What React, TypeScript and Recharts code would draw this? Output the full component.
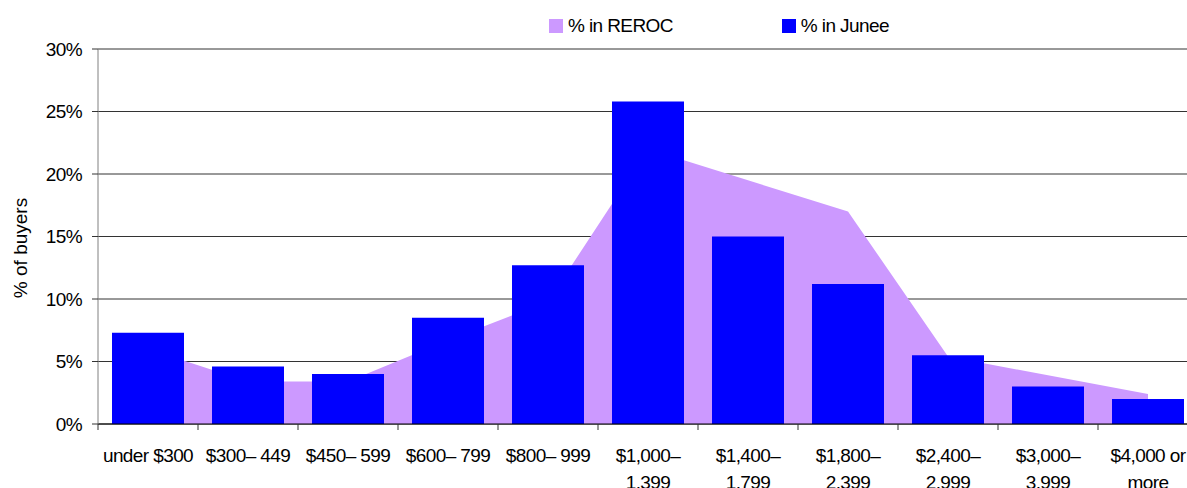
import React from "react"
import { ComposedChart, Area, Bar, XAxis, YAxis, CartesianGrid, Legend } from "recharts"

// price bands (line breaks where the labels wrap)
const categories = [
  "under $300",
  "$300– 449",
  "$450– 599",
  "$600– 799",
  "$800– 999",
  "$1,000–\n1,399",
  "$1,400–\n1,799",
  "$1,800–\n2,399",
  "$2,400–\n2,999",
  "$3,000–\n3,999",
  "$4,000 or\nmore",
]
const reroc = [6.0, 3.4, 3.4, 6.7, 9.8, 22.0, 19.5, 17.0, 5.4, 3.9, 2.4]
const junee = [7.3, 4.6, 4.0, 8.5, 12.7, 25.8, 15.0, 11.2, 5.5, 3.0, 2.0]
const yTicks = [0, 5, 10, 15, 20, 25, 30]

const seriesInfo = [
  { key: "reroc", name: "% in REROC", color: "#CC99FF" },
  { key: "junee", name: "% in Junee", color: "#0000FF" },
]

const FONT = "'Liberation Sans', Arial, sans-serif"
const FS = 19
const LS = -0.6

const data = categories.map((c, i) => ({ cat: c, reroc: reroc[i], junee: junee[i] }))

function CategoryTick(props: any) {
  const { x, y, payload, index, visibleTicksCount } = props
  const half = payload && payload.offset ? payload.offset : 50
  const lines = String(payload.value).split("\n")
  return (
    <g>
      <line x1={x - half} x2={x - half} y1={y} y2={y + 6} stroke="#333" />
      {index === visibleTicksCount - 1 && <line x1={x + half} x2={x + half} y1={y} y2={y + 6} stroke="#333" />}
      <text x={x} y={y + 38} textAnchor="middle" fontSize={FS} letterSpacing={LS} fill="#000" fontFamily={FONT}>
        {lines.map((l, i) => (
          <tspan key={i} x={x} dy={i === 0 ? 0 : 27}>
            {l}
          </tspan>
        ))}
      </text>
    </g>
  )
}

function LegendContent() {
  return (
    <div
      style={{
        display: "flex",
        alignItems: "center",
        paddingLeft: 549,
        fontFamily: FONT,
        fontSize: FS,
        letterSpacing: LS,
        color: "#000",
      }}
    >
      {seriesInfo.map((s, i) => (
        <div key={s.key} style={{ display: "flex", alignItems: "center", marginRight: i === 0 ? 109 : 0 }}>
          <div style={{ width: 14, height: 14, background: s.color, marginRight: 5 }} />
          <span>{s.name}</span>
        </div>
      ))}
    </div>
  )
}

export default function App() {
  return (
    <div
      style={{
        position: "absolute",
        left: 0,
        top: 0,
        width: 1187,
        height: 488,
        overflow: "hidden",
        background: "#fff",
        fontFamily: FONT,
      }}
    >
      <ComposedChart width={1200} height={488} data={data} margin={{ top: 49, right: 2, left: 0, bottom: 0 }} barCategoryGap="14%">
        <CartesianGrid vertical={false} stroke="#333" />
        <Legend
          verticalAlign="middle"
          align="center"
          layout="horizontal"
          wrapperStyle={{ top: 15, left: 0, width: 1187 }}
          content={<LegendContent />}
        />
        <XAxis
          dataKey="cat"
          interval={0}
          height={64}
          tickLine={false}
          tickSize={0}
          tickMargin={0}
          axisLine={{ stroke: "#000" }}
          tick={<CategoryTick />}
        />
        <YAxis
          width={98}
          domain={[0, 30]}
          ticks={yTicks}
          interval={0}
          tickFormatter={(v) => `${v}%`}
          tickSize={6}
          tickMargin={10}
          tickLine={{ stroke: "#333" }}
          axisLine={{ stroke: "#808080" }}
          tick={{ fontSize: FS, fill: "#000", fontFamily: FONT, letterSpacing: LS }}
          label={{
            content: () => (
              <text
                x={20}
                y={248}
                transform="rotate(-90 20 248)"
                textAnchor="middle"
                dominantBaseline="central"
                fontSize={FS}
                fill="#000"
                fontFamily={FONT}
              >
                % of buyers
              </text>
            ),
          }}
        />
        <Area
          type="linear"
          dataKey="reroc"
          name="% in REROC"
          fill="#CC99FF"
          fillOpacity={1}
          stroke="none"
          isAnimationActive={false}
          dot={false}
          activeDot={false}
        />
        <Bar dataKey="junee" name="% in Junee" fill="#0000FF" isAnimationActive={false} />
      </ComposedChart>
    </div>
  )
}
